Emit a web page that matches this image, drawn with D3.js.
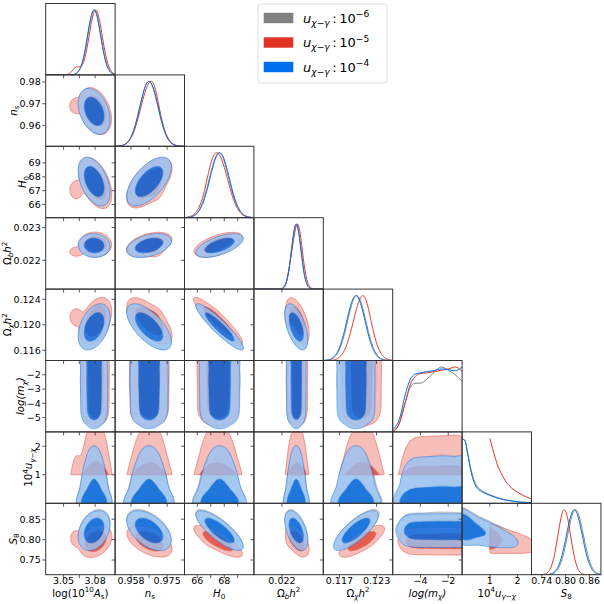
<!DOCTYPE html>
<html>
<head>
<meta charset="utf-8">
<script src="https://cdn.jsdelivr.net/npm/d3@7"></script>
<style>
  body { margin: 0; background: #fff; }
  svg text { font-family: "DejaVu Sans", sans-serif; fill: #000; }
</style>
</head>
<body>
<svg id="chart" width="604" height="604"></svg>
<script>
// ---- data ----
const paramRangeLo = [3.033, 0.9505, 65.05, 0.02112, 0.1144, -6, 0, 0.714];
const paramRangeHi = [3.099, 0.9832, 70.2, 0.02330, 0.1256, -1, 2.5, 0.889];

const xTickValues = [[3.05, 3.065, 3.08], [0.958, 0.9665, 0.975], [66, 67, 68, 69], [0.022], [0.117, 0.123], [-4, -2], [1, 2], [0.74, 0.80, 0.86]];
const xTickLabels = [["3.05", "", "3.08"], ["0.958", "", "0.975"], ["66", "", "68", ""], ["0.022"], ["0.117", "0.123"], ["−4", "−2"], ["1", "2"], ["0.74", "0.80", "0.86"]];
const yTickValues = [[], [0.96, 0.97, 0.98], [66, 67, 68, 69], [0.022, 0.023], [0.116, 0.120, 0.124], [-5, -4, -3, -2], [1, 2], [0.75, 0.80, 0.85]];
const yTickLabels = [[], ["0.96", "0.97", "0.98"], ["66", "67", "68", "69"], ["0.022", "0.023"], ["0.116", "0.120", "0.124"], ["−5", "−4", "−3", "−2"], ["1", "2"], ["0.75", "0.80", "0.85"]];

// label pieces: [text, style]  style: i italic, sub/sup, subi
const axisLabels = [
  [["log(10", ""], ["10", "sup"], ["A", "i"], ["s", "sub"], [")", ""]],
  [["n", "i"], ["s", "sub"]],
  [["H", "i"], ["0", "sub"]],
  [["Ω", ""], ["b", "subi"], ["h", "i"], ["2", "sup"]],
  [["Ω", ""], ["χ", "subi"], ["h", "i"], ["2", "sup"]],
  [["log(m", "i"], ["χ", "subi"], [")", "i"]],
  [["10", ""], ["4", "sup"], ["u", "i"], ["γ−χ", "subi"]],
  [["S", "i"], ["8", "sub"]]
];

const seriesNames = ["gray", "red", "blue"];
const seriesColors = ["#808080", "#E03424", "#006FED"];
const legendExponents = ["−6", "−5", "−4"];

// gaussian-like parameters: logA, ns, H0, ombh2, omch2, S8
const meanGray  = [3.0792, 0.9664, 67.62, 0.02245, 0.11980, 0.8250];
const sigmaGray = [0.0062, 0.0043, 0.72, 0.000148, 0.00148, 0.0200];
const meanRed   = [3.0805, 0.9667, 67.54, 0.02249, 0.12062, 0.7960];
const sigmaRed  = [0.0062, 0.0044, 0.74, 0.000150, 0.00150, 0.0160];
const meanBlue  = [3.0790, 0.9665, 67.66, 0.02245, 0.11966, 0.8220];
const sigmaBlue = [0.0062, 0.0043, 0.72, 0.000148, 0.00148, 0.0200];

const corr = [
  [ 1.00, -0.35, -0.45, -0.05,  0.40,  0.30],
  [-0.35,  1.00,  0.60,  0.40, -0.65, -0.50],
  [-0.45,  0.60,  1.00,  0.60, -0.92, -0.80],
  [-0.05,  0.40,  0.60,  1.00, -0.55, -0.50],
  [ 0.40, -0.65, -0.92, -0.55,  1.00,  0.78],
  [ 0.30, -0.50, -0.80, -0.50,  0.78,  1.00]
];

// small low-logA tail seen in the red contours
const redTailWeight = 0.06;
const redTailMean  = [3.0620, 0.9690, 67.05, 0.02226, 0.1212, 0.803];
const redTailSigma = [0.0036, 0.0020, 0.38, 0.00008, 0.0008, 0.013];

// log(m_chi) marginals
const logmGrid = [-6, -5.5, -5.1, -4.75, -4.4, -4.0, -3.5, -3.0, -2.5, -2.0, -1.5, -1.0];
const logmGray = [0.0, 0.15, 0.45, 0.68, 0.75, 0.75, 0.82, 0.92, 1.00, 0.95, 0.88, 0.78];
const logmRed  = [0.0, 0.14, 0.45, 0.72, 0.85, 0.90, 0.91, 0.93, 0.95, 0.97, 1.00, 0.93];
const logmBlue = [0.03, 0.21, 0.57, 0.80, 0.89, 0.91, 0.93, 0.945, 0.97, 0.96, 0.94, 1.00];

// 10^4 u marginals
const uGrid    = [0, 0.1, 0.2, 0.3, 0.4, 0.5, 0.7, 0.9, 1.2, 1.5, 1.8, 2.1, 2.5];
const uGray    = [0.99, 0.97, 0.78, 0.56, 0.40, 0.29, 0.20, 0.15, 0.10, 0.06, 0.035, 0.02, 0.01];
const uBlue    = [0.99, 0.97, 0.76, 0.53, 0.36, 0.26, 0.18, 0.14, 0.09, 0.055, 0.035, 0.017, 0.008];
const uGridRed = [1.0, 1.1, 1.2, 1.3, 1.4, 1.6, 1.8, 2.0, 2.2, 2.5];
const uRed     = [1.0, 0.84, 0.69, 0.56, 0.47, 0.32, 0.23, 0.17, 0.12, 0.066];

// S8 drift with u
const s8SlopeU = [-0.02, -0.012, -0.02];
const s8PivotU = [0.5, 1.6, 0.5];
const s8SigmaGivenU = [0.016, 0.015, 0.016];

// ---- layout ----
const X0 = 45.7, Y0 = 3.5, CW = 69.4, CH = 71.4, NP = 8, N = 90;
const tickFont = 9.5, labelFont = 10.2;
// sharpness of the u profile used for the outer / inner 2D contour
const uPower95 = [1, 0.9, 1];
const uPower68 = [1, 2.2, 1];

const svg = d3.select("#chart");
const defs = svg.append("defs");

const xs = d3.range(NP).map(k => d3.scaleLinear().domain([paramRangeLo[k], paramRangeHi[k]]).range([X0 + k * CW, X0 + (k + 1) * CW]));
const ys = d3.range(NP).map(k => d3.scaleLinear().domain([paramRangeLo[k], paramRangeHi[k]]).range([Y0 + (k + 1) * CH, Y0 + k * CH]));

const gIndex = [0, 1, 2, 3, 4, -1, -1, 5];
const means = [meanGray, meanRed, meanBlue];
const sigmas = [sigmaGray, sigmaRed, sigmaBlue];
const logmProf = [logmGray, logmRed, logmBlue];
const uProf = [uGray, uRed, uBlue];
const uGrids = [uGrid, uGridRed, uGrid];

function comps(d, withTail) {
  if (d === 1 && withTail) {
    return [{ w: 1 - redTailWeight, m: means[d], s: sigmas[d], c: true },
            { w: redTailWeight, m: redTailMean, s: redTailSigma, c: false }];
  }
  return [{ w: 1, m: means[d], s: sigmas[d], c: true }];
}
function n1(x, mu, sg) { const z = (x - mu) / sg; return Math.exp(-0.5 * z * z) / sg; }
function n2(x, y, mx, my, sx, sy, r) {
  const a = (x - mx) / sx, b = (y - my) / sy;
  return Math.exp(-0.5 * (a * a - 2 * r * a * b + b * b) / (1 - r * r)) / (sx * sy * Math.sqrt(1 - r * r));
}
function profileFn(grid, vals) {
  const sc = d3.scaleLinear().domain(grid).range(vals);
  return v => (v < grid[0] || v > grid[grid.length - 1]) ? 0 : sc(v);
}
function marg1(d, k, withTail) {
  const g = gIndex[k], cs = comps(d, withTail);
  return x => cs.reduce((a, c) => a + c.w * n1(x, c.m[g], c.s[g]), 0);
}
function prof(d, k) {
  if (k === 5) return profileFn(logmGrid, logmProf[d]);
  return profileFn(uGrids[d], uProf[d]);
}

// density for panel with x param j, y param i
function density(d, i, j, pw) {
  const gi = gIndex[i], gj = gIndex[j];
  if (gi >= 0 && gj >= 0) {
    const cs = comps(d, true);
    return (x, y) => cs.reduce((a, c) => a + c.w * n2(x, y, c.m[gj], c.m[gi], c.s[gj], c.s[gi], c.c ? corr[gj][gi] : 0), 0);
  }
  if (gj >= 0) {
    const fx = marg1(d, j, i === 6), fy = prof(d, i);
    const p = i === 6 ? pw : 1;
    return (x, y) => fx(x) * Math.pow(fy(y), p);
  }
  if (j === 5 && i === 6) {
    const fx = prof(d, 5), fy = prof(d, 6);
    return (x, y) => fx(x) * Math.pow(fy(y), pw);
  }
  if (j === 5 && i === 7) {
    const fx = prof(d, 5), fy = marg1(d, 7, false);
    return (x, y) => fx(x) * fy(y);
  }
  // u vs S8
  const fx = prof(d, 6), mu = means[d][5];
  return (x, y) => Math.pow(fx(x), pw) * n1(y, mu + s8SlopeU[d] * (x - s8PivotU[d]), s8SigmaGivenU[d]);
}

function level(values, frac) {
  const s = Float64Array.from(values).sort().reverse();
  const tot = d3.sum(s);
  let acc = 0;
  for (let k = 0; k < s.length; k++) {
    acc += s[k];
    if (acc >= frac * tot) return s[k];
  }
  return s[s.length - 1];
}

function pale(c) {
  const r = d3.rgb(c);
  return d3.rgb(r.r * 0.4 + 153, r.g * 0.4 + 153, r.b * 0.4 + 153).formatHex();
}

// ---- panels ----
for (let i = 0; i < NP; i++) {
  for (let j = 0; j <= i; j++) {
    const x = xs[j], left = x.range()[0], top = Y0 + i * CH;
    const cid = `clip-${i}-${j}`;
    defs.append("clipPath").attr("id", cid)
      .append("rect").attr("x", left).attr("y", top).attr("width", CW).attr("height", CH);
    const g = svg.append("g").attr("clip-path", `url(#${cid})`);

    if (i === j) {
      const yd = d3.scaleLinear().domain([0, 1.1]).range([top + CH, top]);
      seriesNames.forEach((nm, d) => {
        let pts;
        if (gIndex[i] >= 0) {
          const f = marg1(d, i, true);
          const xsamp = d3.range(161).map(q => paramRangeLo[i] + q / 160 * (paramRangeHi[i] - paramRangeLo[i]));
          const vals = xsamp.map(f), mx = d3.max(vals);
          pts = xsamp.map((v, q) => [v, vals[q] / mx]);
        } else if (i === 5) {
          pts = logmGrid.map((v, q) => [v, logmProf[d][q]]);
        } else {
          pts = uGrids[d].map((v, q) => [v, uProf[d][q]]);
        }
        g.append("path")
          .attr("d", d3.line().x(p => x(p[0])).y(p => yd(p[1])).curve(d3.curveMonotoneX)(pts))
          .attr("fill", "none")
          .attr("stroke", seriesColors[d])
          .attr("stroke-width", 1);
      });
    } else {
      const y = ys[i];
      const lx = paramRangeLo[j], hx = paramRangeHi[j], ly = paramRangeLo[i], hy = paramRangeHi[i];
      const tr = d3.geoTransform({
        point: function (gx, gy) {
          this.stream.point(x(lx + gx / N * (hx - lx)), y(hy - gy / N * (hy - ly)));
        }
      });
      const path = d3.geoPath(tr);
      const grid = f => {
        const values = new Float64Array(N * N);
        for (let b = 0; b < N; b++) {
          const yv = hy - (b + 0.5) / N * (hy - ly);
          for (let a = 0; a < N; a++) values[a + b * N] = f(lx + (a + 0.5) / N * (hx - lx), yv);
        }
        return values;
      };
      seriesNames.forEach((nm, d) => {
        const v95 = grid(density(d, i, j, uPower95[d]));
        const v68 = uPower68[d] === uPower95[d] ? v95 : grid(density(d, i, j, uPower68[d]));
        const c95 = d3.contours().size([N, N]).thresholds([level(v95, 0.95)])(v95)[0];
        const c68 = d3.contours().size([N, N]).thresholds([level(v68, 0.68)])(v68)[0];
        const sg = g.append("g").attr("opacity", 0.8);
        sg.append("path").attr("d", path(c95)).attr("fill", pale(seriesColors[d]));
        sg.append("path").attr("d", path(c68)).attr("fill", seriesColors[d]);
        [c95, c68].forEach(c => sg.append("path").attr("d", path(c))
          .attr("fill", "none").attr("stroke", seriesColors[d]).attr("stroke-width", 0.6));
      });
    }
  }
}

// ---- frames and ticks ----
const axG = svg.append("g");
for (let i = 0; i < NP; i++) {
  for (let j = 0; j <= i; j++) {
    const left = X0 + j * CW, top = Y0 + i * CH, bottom = top + CH;
    axG.append("rect").attr("x", left).attr("y", top).attr("width", CW).attr("height", CH)
      .attr("fill", "none").attr("stroke", "#333").attr("stroke-width", 1);
    xTickValues[j].forEach(t => {
      axG.append("line").attr("x1", xs[j](t)).attr("x2", xs[j](t))
        .attr("y1", bottom).attr("y2", bottom + 3.5)
        .attr("stroke", "#333").attr("stroke-width", 0.8);
    });
    if (i !== j) {
      yTickValues[i].forEach(t => {
        axG.append("line").attr("x1", left).attr("x2", left - 3.5)
          .attr("y1", ys[i](t)).attr("y2", ys[i](t))
          .attr("stroke", "#333").attr("stroke-width", 0.8);
      });
    }
  }
}

function mathText(sel, parts, size) {
  let shift = 0;
  parts.forEach(([t, s]) => {
    const sup = s.startsWith("sup"), sub = s.startsWith("sub");
    const target = sup ? -0.42 * size : sub ? 0.24 * size : 0;
    sel.append("tspan").text(t)
      .attr("dy", target - shift)
      .attr("font-size", (sup || sub) ? size * 0.7 : size)
      .attr("font-style", s.endsWith("i") ? "italic" : "normal");
    shift = target;
  });
}

// x tick labels and labels on the bottom row
const yBottom = Y0 + NP * CH;
for (let j = 0; j < NP; j++) {
  xTickValues[j].forEach((t, q) => {
    if (!xTickLabels[j][q]) return;
    svg.append("text").attr("x", xs[j](t)).attr("y", yBottom + 9.5)
      .attr("text-anchor", "middle").attr("font-size", tickFont).text(xTickLabels[j][q]);
  });
  const lab = svg.append("text").attr("x", X0 + (j + 0.5) * CW).attr("y", yBottom + 22)
    .attr("text-anchor", "middle").attr("font-size", labelFont);
  mathText(lab, axisLabels[j], labelFont);
}

// y tick labels and labels on the first column
for (let i = 1; i < NP; i++) {
  let maxW = 0;
  yTickValues[i].forEach((t, q) => {
    const tx = svg.append("text").attr("x", X0 - 5).attr("y", ys[i](t)).attr("dy", "0.36em")
      .attr("text-anchor", "end").attr("font-size", tickFont).text(yTickLabels[i][q]);
    maxW = Math.max(maxW, tx.node().getComputedTextLength());
  });
  const bx = X0 - 5 - maxW - 2.5, cy = Y0 + (i + 0.5) * CH;
  const lab = svg.append("text").attr("transform", `translate(${bx},${cy}) rotate(-90)`)
    .attr("text-anchor", "middle").attr("font-size", labelFont);
  mathText(lab, axisLabels[i], labelFont);
}

// ---- legend ----
const leg = svg.append("g");
leg.append("rect").attr("x", 258).attr("y", 4).attr("width", 129).attr("height", 79).attr("rx", 3)
  .attr("fill", "#fff").attr("fill-opacity", 0.8).attr("stroke", "#d6d6d6").attr("stroke-width", 0.8);
seriesNames.forEach((nm, d) => {
  const cy = 18 + d * 24.5;
  leg.append("rect").attr("x", 263.7).attr("y", cy - 5.2).attr("width", 29.6).attr("height", 10.4)
    .attr("fill", seriesColors[d]);
  const t = leg.append("text").attr("x", 303).attr("y", cy + 4.6).attr("font-size", 13);
  mathText(t, [["u", "i"], ["χ−γ", "subi"], ["\u2009:\u200910", ""], [legendExponents[d], "sup"]], 13);
});
</script>
</body>
</html>
